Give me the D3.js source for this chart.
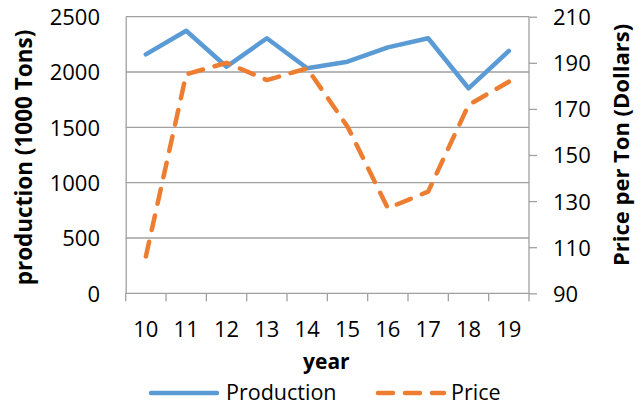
<!DOCTYPE html>
<html>
<head>
<meta charset="utf-8">
<script src="https://cdn.jsdelivr.net/npm/d3@7"></script>
<style>
  html, body { margin: 0; padding: 0; background: #fff; }
  svg { display: block; }
  text { font-family: "Open Sans", "Noto Sans", sans-serif; fill: #000; }
</style>
</head>
<body>
<script>
const years = ["10", "11", "12", "13", "14", "15", "16", "17", "18", "19"];
const production = [2160, 2373, 2048, 2305, 2034, 2093, 2223, 2305, 1853, 2190];
const price = [106, 185, 190, 182.5, 187.6, 162.3, 126.9, 134.1, 171.7, 181.8];
const leftTicks = [0, 500, 1000, 1500, 2000, 2500];
const rightTicks = [90, 110, 130, 150, 170, 190, 210];

const W = 642, H = 406;
const m = { left: 125.7, right: 113, top: 16.7, bottom: 112.7 };
const x0 = m.left, x1 = W - m.right, y0 = H - m.bottom, y1 = m.top;

const svg = d3.select("body").append("svg").attr("width", W).attr("height", H);

const x = d3.scaleBand().domain(years).range([x0, x1]).paddingInner(0).paddingOuter(0);
const yL = d3.scaleLinear().domain([0, 2500]).range([y0, y1]);
const yR = d3.scaleLinear().domain([90, 210]).range([y0, y1]);

const grid = "#a0a0a0";

// gridlines
svg.append("g").selectAll("line").data(leftTicks.filter(d => d > 0)).join("line")
  .attr("x1", x0).attr("x2", x1)
  .attr("y1", d => yL(d)).attr("y2", d => yL(d))
  .attr("stroke", grid).attr("stroke-width", 1.3);

// left axis
const gL = svg.append("g").attr("transform", `translate(${x0},0)`)
  .call(d3.axisLeft(yL).tickValues(leftTicks).tickFormat(d3.format("d")).tickSize(0).tickPadding(25.7));
gL.select(".domain").attr("stroke", grid).attr("stroke-width", 1.3);
gL.selectAll("text").attr("font-size", 22).attr("dy", "0.36em");

// right axis
const gR = svg.append("g").attr("transform", `translate(${x1},0)`)
  .call(d3.axisRight(yR).tickValues(rightTicks).tickFormat(d3.format("d")).tickSize(8).tickPadding(16));
gR.select(".domain").remove();
gR.append("line").attr("x1", 0).attr("x2", 0).attr("y1", y0).attr("y2", y1)
  .attr("stroke", grid).attr("stroke-width", 1.3);
gR.selectAll(".tick line").attr("stroke", grid).attr("stroke-width", 1.3);
gR.selectAll("text").attr("font-size", 22).attr("dy", "0.36em");

// bottom axis
const gB = svg.append("g").attr("transform", `translate(0,${y0})`)
  .call(d3.axisBottom(x).tickSize(0).tickPadding(28));
gB.select(".domain").remove();
gB.append("line").attr("x1", x0).attr("x2", x1).attr("y1", 0).attr("y2", 0)
  .attr("stroke", grid).attr("stroke-width", 1.3);
const bounds = years.map(d => x(d)).concat([x1]);
gB.selectAll(".bt").data(bounds).join("line").attr("class", "bt")
  .attr("x1", d => d).attr("x2", d => d).attr("y1", 0).attr("y2", 8)
  .attr("stroke", grid).attr("stroke-width", 1.3);
gB.selectAll("text").attr("font-size", 22);

// lines
const cx = d => x(d) + x.bandwidth() / 2;
const prodLine = d3.line().x((d, i) => cx(years[i])).y(d => yL(d));
const priceLine = d3.line().x((d, i) => cx(years[i])).y(d => yR(d));

svg.append("path").datum(production).attr("d", prodLine)
  .attr("fill", "none").attr("stroke", "#5B9BD5").attr("stroke-width", 4.5)
  .attr("stroke-linejoin", "round").attr("stroke-linecap", "round");

svg.append("path").datum(price).attr("d", priceLine)
  .attr("fill", "none").attr("stroke", "#ED7D31").attr("stroke-width", 4.5)
  .attr("stroke-linejoin", "round").attr("stroke-linecap", "round")
  .attr("stroke-dasharray", "15,12");

// axis titles
svg.append("text").attr("x", (x0 + x1) / 2 - 1).attr("y", 369)
  .attr("text-anchor", "middle").attr("font-size", 21).attr("font-weight", "bold")
  .text("year");

svg.append("text").attr("transform", `translate(32,157.5) rotate(-90)`)
  .attr("text-anchor", "middle").attr("font-size", 22.5).attr("font-weight", "bold")
  .text("production (1000 Tons)");

svg.append("text").attr("transform", `translate(629,145) rotate(-90)`)
  .attr("text-anchor", "middle").attr("font-size", 22).attr("font-weight", "bold")
  .text("Price per Ton (Dollars)");

// legend
const lg = svg.append("g");
lg.append("line").attr("x1", 151).attr("x2", 217).attr("y1", 393).attr("y2", 393)
  .attr("stroke", "#5B9BD5").attr("stroke-width", 4.5).attr("stroke-linecap", "round");
lg.append("text").attr("x", 226).attr("y", 400).attr("font-size", 21.5).text("Production");
lg.append("line").attr("x1", 378).attr("x2", 444).attr("y1", 393).attr("y2", 393)
  .attr("stroke", "#ED7D31").attr("stroke-width", 4.5).attr("stroke-linecap", "round")
  .attr("stroke-dasharray", "15,12");
lg.append("text").attr("x", 451).attr("y", 400).attr("font-size", 21.5).text("Price");
</script>
</body>
</html>
